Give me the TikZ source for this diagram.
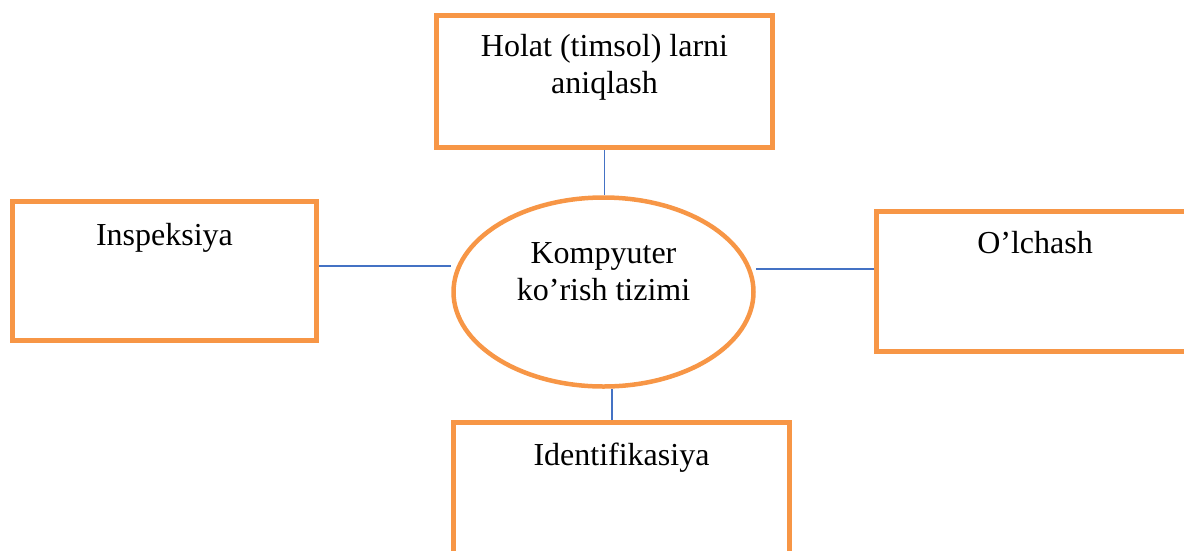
\documentclass[tikz,border=0pt]{standalone}
\usepackage{fontspec}
\setmainfont{Liberation Serif}
\usetikzlibrary{shapes.geometric}
\definecolor{boxorange}{HTML}{F79646}
\definecolor{linkblue}{HTML}{4472C4}
\begin{document}
\begin{tikzpicture}[
  x=1pt,y=-1pt,
  every node/.style={font=\fontsize{32}{37}\selectfont},
  panel/.style={draw=boxorange,line width=5pt,inner sep=0pt},
  core/.style={ellipse,draw=boxorange,line width=4.5pt,inner sep=0pt,
    minimum width=300pt,minimum height=189pt},
  caption/.style={anchor=base,align=center,inner sep=0pt},
  link/.style={draw=linkblue,line width=1.7pt}
]
\useasboundingbox (0,0) rectangle (1184,550);
\clip (0,0) rectangle (1184,550);

% 中心
\node[core] (vision) at (603.5,292) {};
\node[caption] (visionT) at (603.5,300) {Kompyuter\\ko’rish tizimi};

% 四つの枠
\node[panel,minimum width=336pt,minimum height=132pt] (holat) at (604.5,81.5) {};
\node[caption] (holatT) at (604.5,93) {Holat (timsol) larni\\aniqlash};

\node[panel,minimum width=304pt,minimum height=139pt] (insp) at (164.5,271) {};
\node[caption] (inspT) at (164.5,245) {Inspeksiya};

\node[panel,minimum width=317pt,minimum height=140pt] (olch) at (1035,281.5) {};
\node[caption] (olchT) at (1035,253) {O’lchash};

\node[panel,minimum width=336pt,minimum height=138pt] (ident) at (621.5,491.5) {};
\node[caption] (identT) at (621.5,465) {Identifikasiya};

% 接続線
\draw[link] (holat.south) -- (holat.south |- vision.north);
\draw[link] ([yshift=5pt]insp.east) -- ([yshift=5pt]insp.east -| vision.west);
\draw[link] ([yshift=12.5pt]olch.west) -- ([yshift=12.5pt]olch.west -| vision.east);
\draw[link] ([xshift=-9.5pt]ident.north) -- ([xshift=-9.5pt]ident.north |- vision.south);
\end{tikzpicture}
\end{document}
